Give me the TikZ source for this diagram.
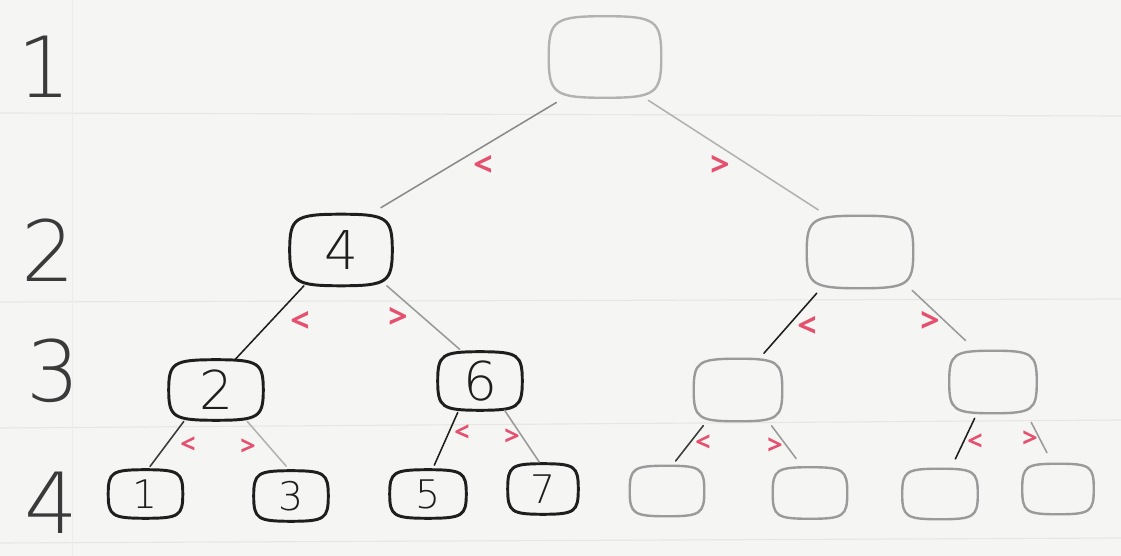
\documentclass[tikz,border=0pt]{standalone}
\usepackage{fontspec}
\setmainfont{Open Sans}
\newfontfamily\handfont{DejaVu Sans ExtraLight}
\usetikzlibrary{calc}

\definecolor{paper}{HTML}{F5F5F3}
\definecolor{rulecol}{HTML}{E6E6E4}
\definecolor{ink}{HTML}{1E1E1E}
\definecolor{lead}{HTML}{3A3A3A}
\definecolor{pencil}{HTML}{9A9A9A}
\definecolor{faint}{HTML}{B2B2B2}
\definecolor{mark}{HTML}{E5506E}

% hand-drawn cushion outline around a named node: convex sides, round corners
\newcommand\sketchoutline[2]{%
  \draw[#1] (#2.north)
    .. controls ($(#2.north)!.9!(#2.north east)$) and ($(#2.east)!.9!(#2.north east)$) .. (#2.east)
    .. controls ($(#2.east)!.9!(#2.south east)$) and ($(#2.south)!.9!(#2.south east)$) .. (#2.south)
    .. controls ($(#2.south)!.9!(#2.south west)$) and ($(#2.west)!.9!(#2.south west)$) .. (#2.west)
    .. controls ($(#2.west)!.9!(#2.north west)$) and ($(#2.north)!.9!(#2.north west)$) .. (#2.north)
    -- cycle;}

\tikzset{
  box/.style={inner sep=0pt, text=ink},
  bignum/.style={font=\handfont\fontsize{38}{38}\selectfont},
  smallnum/.style={font=\handfont\fontsize{28}{28}\selectfont},
  lvl/.style={inner sep=0pt, text=lead, font=\handfont\fontsize{60}{60}\selectfont},
  solidbox/.style={draw=ink, line width=2.1pt},
  greybox/.style={draw=pencil, line width=1.7pt},
  rootbox/.style={draw=faint, line width=1.7pt},
  edge/.style={line width=1.1pt, line cap=round},
  cmp/.style={inner sep=0pt, text=mark, font=\fontsize{24}{24}\selectfont\bfseries},
  cmpsmall/.style={inner sep=0pt, text=mark, font=\fontsize{19}{19}\selectfont\bfseries},
}

\begin{document}
\begin{tikzpicture}[x=0.025cm, y=-0.025cm]
  % paper
  \fill[paper] (0,0) rectangle (1121,556);
  \useasboundingbox (0,0) rectangle (1121,556);
  \draw[rulecol, line width=0.8pt] (0,113) -- (1121,116);
  \draw[rulecol, line width=0.8pt] (0,302) -- (1121,299);
  \draw[rulecol, line width=0.8pt] (0,428) -- (1121,420);
  \draw[rulecol, line width=0.8pt] (0,543) -- (1121,538);
  \draw[rulecol!60!paper, line width=0.6pt] (72,0) -- (72,556);

  % level numbers
  \node[lvl] (lv1) at (44,67) {1};
  \node[lvl] (lv2) at (48,250) {2};
  \node[lvl] (lv3) at (53,371) {3};
  \node[lvl] (lv4) at (51,503) {4};

  % level 1
  \node[box, minimum width=2.8cm, minimum height=2.025cm] (root) at (605,57) {};
  % level 2
  \node[box, bignum, minimum width=2.55cm, minimum height=1.775cm] (l2a) at (341,250) {4};
  \node[box, minimum width=2.65cm, minimum height=1.8cm] (l2b) at (860,252) {};
  % level 3
  \node[box, bignum, minimum width=2.35cm, minimum height=1.5cm] (n2) at (216,390) {2};
  \node[box, bignum, minimum width=2.1cm, minimum height=1.45cm] (n6) at (480,381) {6};
  \node[box, minimum width=2.2cm, minimum height=1.55cm] (g3a) at (738,390) {};
  \node[box, minimum width=2.175cm, minimum height=1.55cm] (g3b) at (993,382) {};
  % level 4
  \node[box, smallnum, minimum width=1.85cm, minimum height=1.2cm] (n1) at (145.5,494) {1};
  \node[box, smallnum, minimum width=1.85cm, minimum height=1.25cm] (n3) at (291,496) {3};
  \node[box, smallnum, minimum width=1.9cm, minimum height=1.2cm] (n5) at (428,494) {5};
  \node[box, smallnum, minimum width=1.75cm, minimum height=1.25cm] (n7) at (543,489) {7};
  \node[box, minimum width=1.85cm, minimum height=1.25cm] (g4a) at (667,491) {};
  \node[box, minimum width=1.85cm, minimum height=1.275cm] (g4b) at (810,493) {};
  \node[box, minimum width=1.875cm, minimum height=1.25cm] (g4c) at (940,494) {};
  \node[box, minimum width=1.775cm, minimum height=1.25cm] (g4d) at (1058,489) {};

  % outlines
  \sketchoutline{rootbox}{root}
  \foreach \n in {l2a,n2,n6,n1,n3,n5,n7} {\sketchoutline{solidbox}{\n}}
  \foreach \n in {l2b,g3a,g3b,g4a,g4b,g4c,g4d} {\sketchoutline{greybox}{\n}}

  % connectors
  \draw[edge, draw=pencil!90!black, shorten <=0.23cm, shorten >=0.32cm] (root.225) -- (l2a.51);
  \draw[edge, draw=faint, shorten <=0.12cm, shorten >=0.27cm] (root.314) -- (l2b.132);
  \draw[edge, draw=ink] (l2a.224) -- (n2.58);
  \draw[edge, draw=pencil, shorten >=0.09cm] (l2a.322) -- (n6.121);
  \draw[edge, draw=ink, shorten <=0.165cm, shorten >=0.18cm] (l2b.223) -- (g3a.56);
  \draw[edge, draw=pencil, shorten <=0.075cm, shorten >=0.37cm] (l2b.324) -- (g3b.118);
  \draw[edge, draw=lead, shorten <=0.035cm, shorten >=0.1cm] (n2.224) -- (n1.85);
  \draw[edge, draw=faint, shorten <=0.035cm, shorten >=0.15cm] (n2.315) -- (n3.92);
  \draw[edge, draw=ink, shorten <=0.06cm, shorten >=0.125cm] (n6.234) -- (n5.80);
  \draw[edge, draw=pencil, shorten >=0.05cm] (n6.310) -- (n7.96);
  \draw[edge, draw=lead, shorten <=0.14cm, shorten >=0.15cm] (g3a.225) -- (g4a.79);
  \draw[edge, draw=pencil, shorten <=0.14cm, shorten >=0.27cm] (g3a.314) -- (g4b.106);
  \draw[edge, draw=ink, shorten <=0.14cm, shorten >=0.27cm] (g3b.243) -- (g4c.67);
  \draw[edge, draw=pencil, shorten <=0.255cm, shorten >=0.31cm] (g3b.317) -- (g4d.102);

  % comparison marks
  \node[cmp] (lt1) at (483,166) {<};
  \node[cmp] (gt1) at (720,166) {>};
  \node[cmp] (lt2a) at (300,322) {<};
  \node[cmp] (gt2a) at (398,318) {>};
  \node[cmp] (lt2b) at (807,327) {<};
  \node[cmp] (gt2b) at (930,322) {>};
  \node[cmpsmall] (lt3a) at (188,445) {<};
  \node[cmpsmall] (gt3a) at (248,447) {>};
  \node[cmpsmall] (lt3b) at (462,433) {<};
  \node[cmpsmall] (gt3b) at (512,437) {>};
  \node[cmpsmall] (lt3c) at (703,443) {<};
  \node[cmpsmall] (gt3c) at (775,446) {>};
  \node[cmpsmall] (lt3d) at (975,442) {<};
  \node[cmpsmall] (gt3d) at (1030,439) {>};
\end{tikzpicture}
\end{document}
